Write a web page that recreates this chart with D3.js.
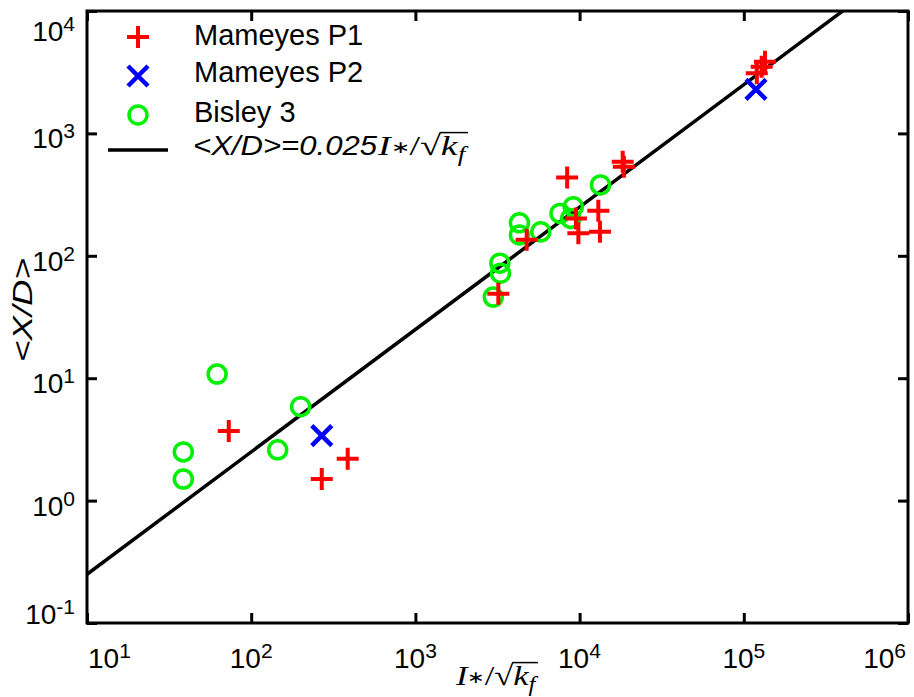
<!DOCTYPE html>
<html>
<head>
<meta charset="utf-8">
<script src="https://cdn.jsdelivr.net/npm/d3@7"></script>
<style>
    body { margin: 0; background: #fff; }
    svg { display: block; }
    text { font-family: "Liberation Sans", Arial, sans-serif; fill: black; }
</style>
</head>
<body>
<svg width="914" height="697"></svg>
<script>
// Mameyes P1 (red +)
let p1X = [73, 387, 269, 3200, 4760, 8400, 9500, 9830, 13000, 13300, 18300, 18600, 134600, 128500, 120000];
let p1Y = [3.7, 2.2, 1.5, 49, 135, 437, 202, 153, 233, 157, 587, 535, 3850, 3500, 3100];

// Mameyes P2 (blue x)
let p2X = [269, 118600];
let p2Y = [3.4, 2290];

// Bisley 3 (green o)
let b3X = [62, 200, 145, 38.6, 38.6, 2980, 3300, 3270, 4300, 4300, 5800, 7600, 9150, 8830, 13400];
let b3Y = [10.8, 5.85, 2.6, 2.5, 1.5, 46, 72, 87, 186, 148, 157, 222, 252, 202, 379];

// fit line <X/D> = 0.025 I*/sqrt(kf)
let fitCoef = 0.025;
let fitRange = [10, 1e6];

// tick exponents
let xTickExp = [1, 2, 3, 4, 5, 6];
let yTickExp = [-1, 0, 1, 2, 3, 4];

let legendLabels = ['Mameyes P1', 'Mameyes P2', 'Bisley 3'];

let svg = d3.select('svg');

let plot = {l: 87, r: 908, t: 11, b: 623};

let xScale = d3.scaleLog().domain([10, 1e6]).range([plot.l, plot.r]);
let yScale = d3.scaleLog().domain([0.1, 1e4]).range([plot.b, plot.t]);

let xTicks = xTickExp.map(e => Math.pow(10, e));
let yTicks = yTickExp.map(e => Math.pow(10, e));

// clip for the fit line
svg.append('clipPath').attr('id', 'plotClip')
    .append('rect')
    .attr('x', plot.l).attr('y', plot.t)
    .attr('width', plot.r - plot.l).attr('height', plot.b - plot.t);

// axes on all four sides, ticks pointing inward
function styleAxis(g) {
    g.select('.domain').remove();
    g.selectAll('.tick line').attr('stroke', 'black').attr('stroke-width', 3);
}
svg.append('g').attr('transform', 'translate(0,' + plot.b + ')')
    .call(d3.axisBottom(xScale).tickValues(xTicks).tickSize(-10).tickFormat(''))
    .call(styleAxis);
svg.append('g').attr('transform', 'translate(0,' + plot.t + ')')
    .call(d3.axisTop(xScale).tickValues(xTicks).tickSize(-10).tickFormat(''))
    .call(styleAxis);
svg.append('g').attr('transform', 'translate(' + plot.l + ',0)')
    .call(d3.axisLeft(yScale).tickValues(yTicks).tickSize(-10).tickFormat(''))
    .call(styleAxis);
svg.append('g').attr('transform', 'translate(' + plot.r + ',0)')
    .call(d3.axisRight(yScale).tickValues(yTicks).tickSize(-10).tickFormat(''))
    .call(styleAxis);

// frame
svg.append('rect')
    .attr('x', plot.l).attr('y', plot.t)
    .attr('width', plot.r - plot.l).attr('height', plot.b - plot.t)
    .attr('fill', 'none').attr('stroke', 'black').attr('stroke-width', 3);

// power-of-ten label: "10" with superscript
function powerLabel(g, e) {
    let t = g.append('text').style('font-size', '28px');
    t.append('tspan').text('10');
    t.append('tspan').text(e < 0 ? '-' + (-e) : e)
        .attr('dy', -10).style('font-size', '21px');
    return t;
}

// x tick labels
xTickExp.forEach(function(e) {
    let t = powerLabel(svg, e);
    let w = t.node().getBBox().width;
    let x0 = xScale(Math.pow(10, e)) - w / 2;
    x0 = Math.max(plot.l + 1, Math.min(plot.r - 2 - w, x0));
    t.attr('x', x0).attr('y', 668);
});

// y tick labels
yTickExp.forEach(function(e) {
    let t = powerLabel(svg, e);
    let yb = yScale(Math.pow(10, e)) + 15;
    yb = Math.max(41, Math.min(624, yb));
    t.attr('text-anchor', 'end').attr('x', 75).attr('y', yb);
});

// math text I*/sqrt(k_f), stretched to a target width
function mathLabel(x0, y0, fs, targetW) {
    let g = svg.append('g');
    let cx = 0;
    function piece(str, italic, size, dy) {
        let t = g.append('text')
            .attr('x', cx).attr('y', dy || 0)
            .text(str)
            .style('font-family', '"Liberation Serif", "Times New Roman", serif')
            .style('font-style', italic ? 'italic' : 'normal')
            .style('font-size', (size || fs) + 'px');
        cx += t.node().getComputedTextLength();
    }
    piece('I', true);
    piece('\u2217', false, fs * 0.62, -fs * 0.06);
    piece('/', false);
    piece('\u221A', false);
    let barStart = cx;
    piece('k', true);
    piece('f', true, fs * 0.72, fs * 0.22);
    let barEnd = cx + 2;
    g.append('line')
        .attr('x1', barStart - 1).attr('x2', barEnd)
        .attr('y1', -0.8 * fs).attr('y2', -0.8 * fs)
        .attr('stroke', 'black').attr('stroke-width', 1.5);
    let s = targetW / barEnd;
    g.attr('transform', 'translate(' + x0 + ',' + y0 + ') scale(' + s + ',1)');
}

// axis titles
mathLabel(456, 685, 28, 82);

svg.append('text')
    .attr('transform', 'translate(32,310) rotate(-90)')
    .attr('text-anchor', 'middle')
    .attr('textLength', 104).attr('lengthAdjust', 'spacingAndGlyphs')
    .style('font-size', '28px').style('font-style', 'italic')
    .text('<X/D>');

// fit line
let fitLine = d3.line()
    .x(d => xScale(d))
    .y(d => yScale(fitCoef * d));
svg.append('path')
    .datum(fitRange)
    .attr('clip-path', 'url(#plotClip)')
    .attr('d', fitLine)
    .attr('fill', 'none').attr('stroke', 'black').attr('stroke-width', 3.5);

// marker shapes
let plusPath = 'M-11,0H11M0,-11V11';
let crossPath = 'M-10,-10L10,10M-10,10L10,-10';

let red = '#ff0000';
let blue = '#0000ff';
let green = '#00f000';

// Bisley 3 circles
svg.append('g').selectAll('circle')
    .data(b3X)
    .enter().append('circle')
    .attr('cx', d => xScale(d))
    .attr('cy', (d, i) => yScale(b3Y[i]))
    .attr('r', 9)
    .attr('fill', 'none').attr('stroke', green).attr('stroke-width', 3.5);

// Mameyes P1 plus
svg.append('g').selectAll('path')
    .data(p1X)
    .enter().append('path')
    .attr('transform', (d, i) => 'translate(' + xScale(d) + ',' + yScale(p1Y[i]) + ')')
    .attr('d', plusPath)
    .attr('fill', 'none').attr('stroke', red).attr('stroke-width', 4);

// Mameyes P2 cross
svg.append('g').selectAll('path')
    .data(p2X)
    .enter().append('path')
    .attr('transform', (d, i) => 'translate(' + xScale(d) + ',' + yScale(p2Y[i]) + ')')
    .attr('d', crossPath)
    .attr('fill', 'none').attr('stroke', blue).attr('stroke-width', 4.5);

// legend
let legX = 138;
let legTextX = 194;
let legY = [37, 76, 115, 150];
let legBase = [45, 82, 122, 155];

svg.append('path')
    .attr('transform', 'translate(' + legX + ',' + legY[0] + ')')
    .attr('d', plusPath)
    .attr('fill', 'none').attr('stroke', red).attr('stroke-width', 4);
svg.append('path')
    .attr('transform', 'translate(' + legX + ',' + legY[1] + ')')
    .attr('d', crossPath)
    .attr('fill', 'none').attr('stroke', blue).attr('stroke-width', 4.5);
svg.append('circle')
    .attr('cx', legX).attr('cy', legY[2]).attr('r', 9)
    .attr('fill', 'none').attr('stroke', green).attr('stroke-width', 3.5);
svg.append('line')
    .attr('x1', 108).attr('x2', 168)
    .attr('y1', legY[3]).attr('y2', legY[3])
    .attr('stroke', 'black').attr('stroke-width', 3.5);

legendLabels.forEach(function(lab, i) {
    svg.append('text')
        .attr('x', legTextX).attr('y', legBase[i])
        .style('font-size', '29px')
        .text(lab);
});

svg.append('text')
    .attr('x', 193).attr('y', legBase[3])
    .attr('textLength', 184).attr('lengthAdjust', 'spacingAndGlyphs')
    .style('font-size', '28px').style('font-style', 'italic')
    .text('<X/D>=0.025');
mathLabel(378, legBase[3], 28, 90);
</script>
</body>
</html>
